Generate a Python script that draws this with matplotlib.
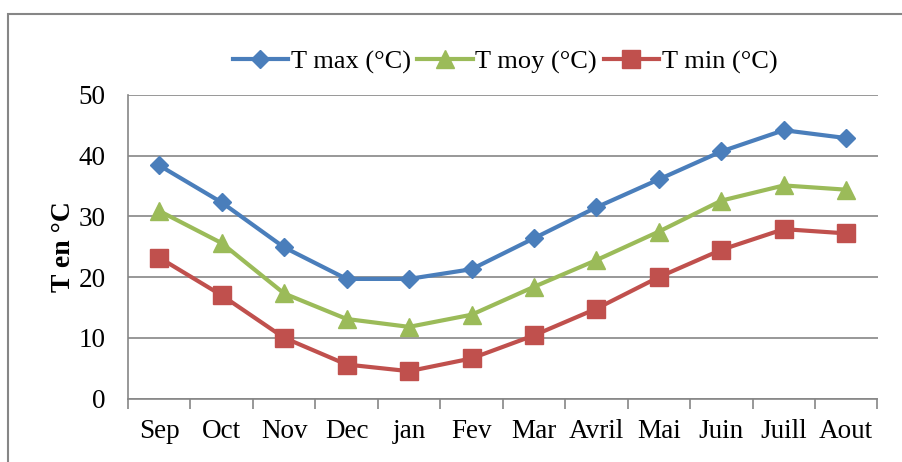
import matplotlib
matplotlib.use("Agg")
import matplotlib.pyplot as plt
from matplotlib.patches import Rectangle

# Températures mensuelles (°C)
mois = ["Sep", "Oct", "Nov", "Dec", "jan", "Fev", "Mar", "Avril", "Mai", "Juin", "Juill", "Aout"]
t_max = [38.4, 32.3, 24.9, 19.7, 19.7, 21.3, 26.4, 31.5, 36.1, 40.7, 44.2, 42.9]
t_moy = [30.9, 25.6, 17.3, 13.1, 11.8, 13.8, 18.4, 22.8, 27.5, 32.6, 35.1, 34.4]
t_min = [23.2, 17.0, 10.0, 5.6, 4.5, 6.6, 10.4, 14.8, 20.0, 24.5, 27.9, 27.2]

plt.rcParams["font.family"] = ["Liberation Serif", "DejaVu Serif"]
plt.rcParams["font.size"] = 19.5

fig = plt.figure(figsize=(9.02, 4.62), dpi=100)
W, H = 902, 462
ax = fig.add_axes([128 / W, 1 - 398.5 / H, (877.5 - 128) / W, (398.5 - 95) / H])

x = range(len(mois))
ax.plot(x, t_max, color="#4A7EBB", lw=3, marker="D", ms=9.5, label="T max (°C)")
ax.plot(x, t_moy, color="#9BBB59", lw=3, marker="^", ms=13, label="T moy (°C)")
ax.plot(x, t_min, color="#C0504D", lw=3, marker="s", ms=12.5, label="T min (°C)")

ax.set_xlim(-0.5, len(mois) - 0.5)
ax.set_ylim(0, 50)
ax.set_yticks(range(0, 51, 10))
ax.set_xticks(list(x))
ax.set_xticklabels(mois)
ax.set_xticks([i + 0.5 for i in range(-1, len(mois))], minor=True)
ax.tick_params(axis="x", which="major", length=0, pad=15)
ax.tick_params(axis="x", which="minor", length=7, width=1.2, color="#868686")
ax.tick_params(axis="y", length=0, pad=16)

ax.grid(axis="y", color="#868686", lw=1.2)
ax.set_axisbelow(True)
for s in ("top", "right"):
    ax.spines[s].set_visible(False)
for s in ("left", "bottom"):
    ax.spines[s].set_color("#868686")
    ax.spines[s].set_linewidth(1.2)

ax.set_ylabel("T en °C", fontweight="bold", fontsize=20, labelpad=2)

ax.legend(loc="center", bbox_to_anchor=(505 / W, 1 - 62 / H), bbox_transform=fig.transFigure,
          ncol=3, frameon=False, handlelength=2.1, handletextpad=0.1, columnspacing=0.25,
          borderaxespad=0, fontsize=19)

# cadre du graphique
fig.patches.append(Rectangle((8 / W, -0.1), 1.2, 1 - 14 / H + 0.1, transform=fig.transFigure,
                             fill=False, edgecolor="#868686", lw=1.5))

fig.savefig("out.png", dpi=100)
